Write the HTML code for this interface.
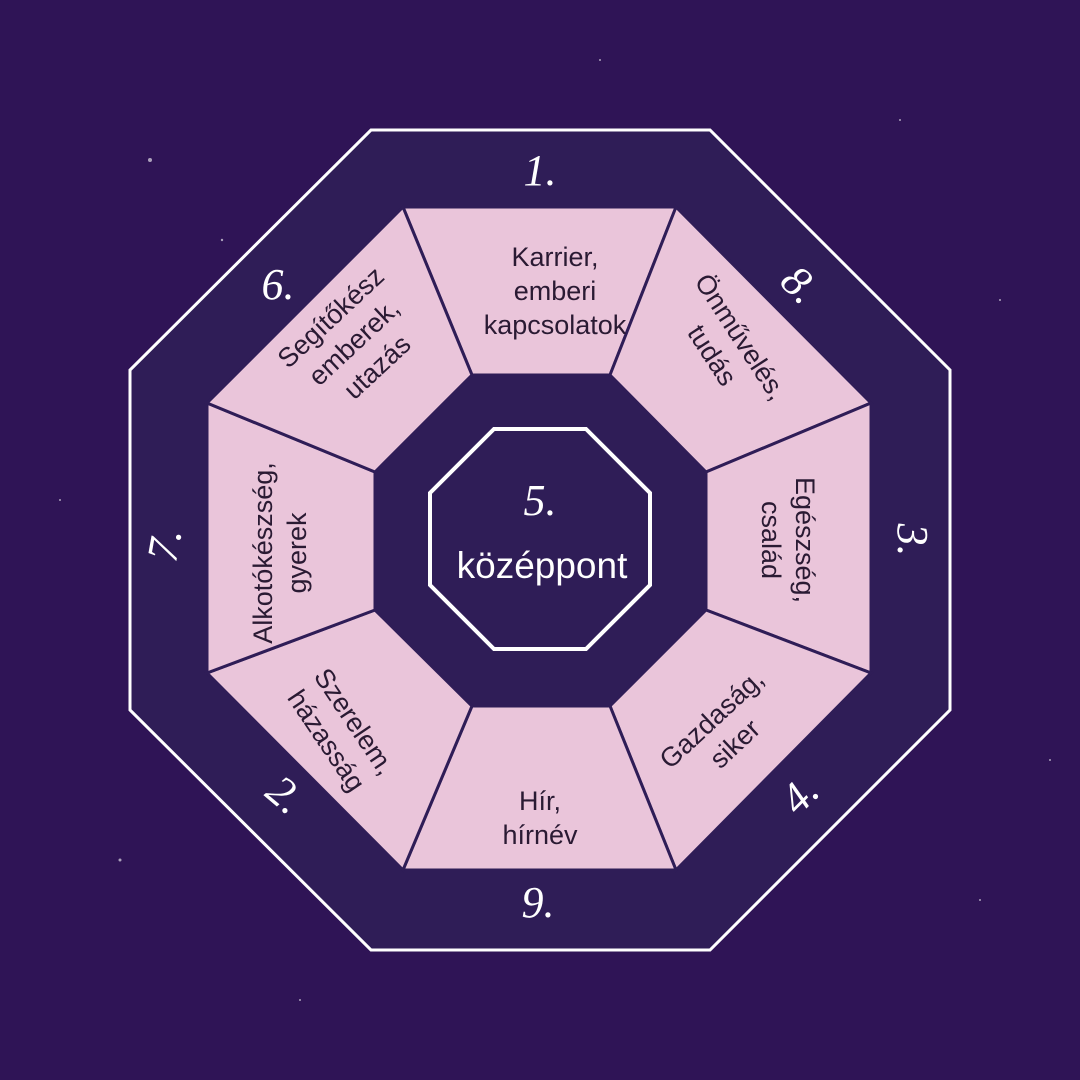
<!DOCTYPE html>
<html><head><meta charset="utf-8"><style>
html,body{margin:0;padding:0;background:#2f1456;}
svg{display:block}
.t{font-family:"Liberation Sans",sans-serif;font-size:27px;fill:#2a1a33;text-anchor:middle}
.n{font-family:"Liberation Serif",serif;font-style:italic;font-size:44px;fill:#fff;text-anchor:middle}
</style></head><body>
<svg width="1080" height="1080" viewBox="0 0 1080 1080">
<rect width="1080" height="1080" fill="#2f1456"/>
<g fill="#fff" opacity="0.6">
<circle cx="150" cy="160" r="2"/><circle cx="222" cy="240" r="1.2"/><circle cx="900" cy="120" r="1"/><circle cx="1000" cy="300" r="1"/><circle cx="60" cy="500" r="1"/><circle cx="120" cy="860" r="1.5"/><circle cx="980" cy="900" r="1"/><circle cx="1050" cy="760" r="1"/><circle cx="600" cy="60" r="1"/><circle cx="300" cy="1000" r="1"/></g>
<polygon points="371,130 710,130 950,370 950,710 710,950 371,950 130,710 130,370" fill="#2f1d57" stroke="#fff" stroke-width="3"/>
<g fill="#eac5da" stroke="#2f1d57" stroke-width="3">
<polygon points="403,207 676,207 610,375 472,375"/>
<polygon points="676,207 871,403 706,472 610,375"/>
<polygon points="871,403 871,673 706,610 706,472"/>
<polygon points="871,673 676,870 610,706 706,610"/>
<polygon points="676,870 403,870 472,706 610,706"/>
<polygon points="403,870 207,673 375,610 472,706"/>
<polygon points="207,673 207,403 375,472 375,610"/>
<polygon points="207,403 403,207 472,375 375,472"/>
</g>
<polygon points="494,429 586,429 650,493 650,585 586,649 494,649 430,585 430,493" fill="#2f1d57" stroke="#fff" stroke-width="4"/>
<text class="n" x="540" y="515">5.</text>
<text x="542" y="578" font-family="Liberation Sans,sans-serif" font-size="37" fill="#fff" text-anchor="middle">középpont</text>
<text class="t" x="555" y="266">Karrier,<tspan x="555" dy="34">emberi</tspan><tspan x="555" dy="34">kapcsolatok</tspan></text>
<g transform="translate(728,345) rotate(57)"><text class="t" x="0" y="-6">Önművelés,<tspan x="0" dy="34">tudás</tspan></text></g>
<g transform="translate(790,540) rotate(90)"><text class="t" x="0" y="-6">Egészség,<tspan x="0" dy="34">család</tspan></text></g>
<g transform="translate(722,730) rotate(-43)"><text class="t" x="0" y="-6">Gazdaság,<tspan x="0" dy="34">siker</tspan></text></g>
<text class="t" x="540" y="810">Hír,<tspan x="540" dy="34">hírnév</tspan></text>
<g transform="translate(342,730) rotate(56)"><text class="t" x="0" y="-6">Szerelem,<tspan x="0" dy="34">házasság</tspan></text></g>
<g transform="translate(278,553) rotate(-90)"><text class="t" x="0" y="-6">Alkotókészség,<tspan x="0" dy="34">gyerek</tspan></text></g>
<g transform="translate(352,340) rotate(-43)"><text class="t" x="0" y="-22">Segítőkész<tspan x="0" dy="34">emberek,</tspan><tspan x="0" dy="34">utazás</tspan></text></g>
<text class="n" x="540" y="185">1.</text>
<g transform="translate(800,285) rotate(45)"><text class="n" x="0" y="14">8.</text></g>
<g transform="translate(912,540) rotate(90)"><text class="n" x="0" y="14">3.</text></g>
<g transform="translate(800,795) rotate(-45)"><text class="n" x="0" y="14">4.</text></g>
<text class="n" x="538" y="917">9.</text>
<g transform="translate(285,795) rotate(40)"><text class="n" x="0" y="14">2.</text></g>
<g transform="translate(165,545) rotate(-80)"><text class="n" x="0" y="14">7.</text></g>
<g transform="translate(278,285)"><text class="n" x="0" y="14">6.</text></g>
</svg>
</body></html>
